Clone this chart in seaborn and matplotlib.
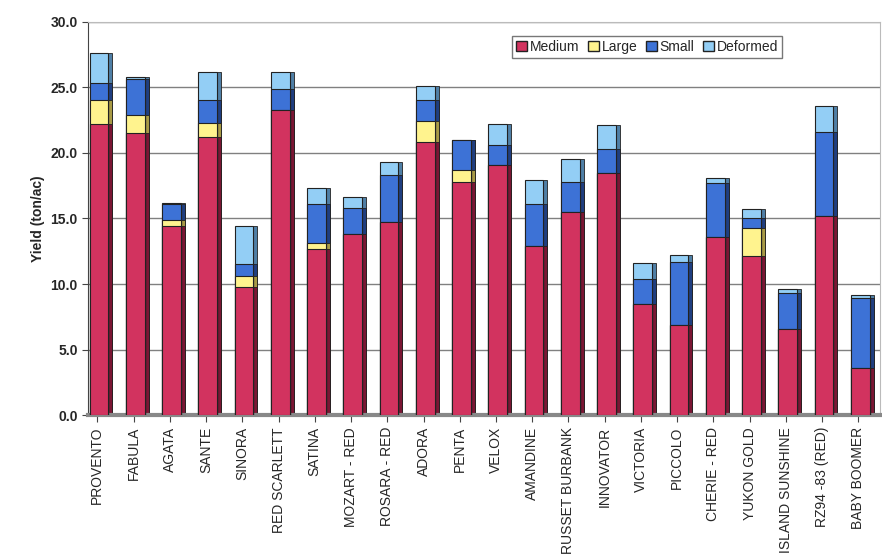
import numpy as np
import pandas as pd
import matplotlib
matplotlib.use('Agg')
import matplotlib.pyplot as plt
import seaborn as sns
from matplotlib.patches import Patch

sns.set_style('white')
plt.rcParams['font.family'] = ['Liberation Sans', 'DejaVu Sans']

# Dados (ton/ac)
variedades = ['PROVENTO', 'FABULA', 'AGATA', 'SANTE', 'SINORA', 'RED SCARLETT',
              'SATINA', 'MOZART - RED', 'ROSARA - RED', 'ADORA', 'PENTA', 'VELOX',
              'AMANDINE', 'RUSSET BURBANK', 'INNOVATOR', 'VICTORIA', 'PICCOLO',
              'CHERIE - RED', 'YUKON GOLD', 'ISLAND SUNSHINE', 'RZ94 -83 (RED)',
              'BABY BOOMER']
medium = [22.2, 21.5, 14.4, 21.2, 9.8, 23.3, 12.7, 13.8, 14.7, 20.8, 17.8, 19.1,
          12.9, 15.5, 18.5, 8.5, 6.9, 13.6, 12.1, 6.6, 15.2, 3.6]
large = [1.8, 1.4, 0.5, 1.1, 0.8, 0.0, 0.4, 0.0, 0.0, 1.6, 0.9, 0.0,
         0.0, 0.0, 0.0, 0.0, 0.0, 0.0, 2.2, 0.0, 0.0, 0.0]
small = [1.3, 2.7, 1.2, 1.7, 0.9, 1.6, 3.0, 2.0, 3.6, 1.6, 2.3, 1.5,
         3.2, 2.3, 1.8, 1.9, 4.8, 4.1, 0.7, 2.7, 6.4, 5.3]
deformed = [2.3, 0.2, 0.1, 2.2, 2.9, 1.3, 1.2, 0.8, 1.0, 1.1, 0.0, 1.6,
            1.8, 1.7, 1.8, 1.2, 0.5, 0.4, 0.7, 0.3, 2.0, 0.3]

series = ['Medium', 'Large', 'Small', 'Deformed']
cores = ['#D2335F', '#FFF38E', '#3D72D6', '#93CEF5']
laterais = ['#7A1633', '#A89A45', '#1F3E80', '#4F7FA6']

df = pd.DataFrame({'Variedade': variedades, 'Medium': medium, 'Large': large,
                   'Small': small, 'Deformed': deformed})
# acumulado para empilhar
acum = df[series].cumsum(axis=1)

fig, ax = plt.subplots(figsize=(8.82, 5.58), dpi=100)
fig.subplots_adjust(left=0.1, right=0.998, top=0.961, bottom=0.256)

x = np.arange(len(variedades))
# lateral escura (efeito 3D simples), do topo para baixo
for s, c in zip(reversed(series), reversed(laterais)):
    ax.bar(x + 0.31, acum[s], width=0.12, color=c, edgecolor='#222222', linewidth=0.6, zorder=2)
for s, c in zip(reversed(series), reversed(cores)):
    sns.barplot(data=acum.assign(Variedade=variedades), x='Variedade', y=s, color=c,
                width=0.52, edgecolor='#222222', linewidth=0.8, saturation=1, ax=ax, zorder=3)

ax.set_ylim(0, 30)
ax.set_xlim(-0.3, 21.55)
ax.set_yticks(np.arange(0, 30.1, 5))
ax.set_yticklabels([f'{v:.1f}' for v in np.arange(0, 30.1, 5)], fontsize=10, fontweight='bold')
ax.yaxis.grid(True, color='#808080', linewidth=1.0, zorder=0)
ax.set_axisbelow(True)
ax.tick_params(axis='y', length=4, left=True, color='#444444')
ax.tick_params(axis='x', length=5, bottom=True, color='#444444')
ax.set_xticks(x - 0.05)
ax.set_xticklabels(variedades, rotation=90, fontsize=10)
ax.set_xlabel('')
ax.set_ylabel('Yield (ton/ac)', fontsize=10, fontweight='bold')

for lado in ['top', 'right']:
    ax.spines[lado].set_color('#BBBBBB')
ax.spines['left'].set_color('#444444')
ax.spines['bottom'].set_color('#888888')
ax.spines['bottom'].set_linewidth(3)

handles = [Patch(facecolor=c, edgecolor='#222222', label=s) for s, c in zip(series, cores)]
ax.legend(handles=handles, loc='upper left', bbox_to_anchor=(0.535, 0.965), ncol=4,
          frameon=True, fancybox=False, edgecolor='#555555', fontsize=10,
          handlelength=0.8, handleheight=0.8, handletextpad=0.2, columnspacing=0.6,
          borderpad=0.3, borderaxespad=0)

plt.savefig('out.png', dpi=100)
